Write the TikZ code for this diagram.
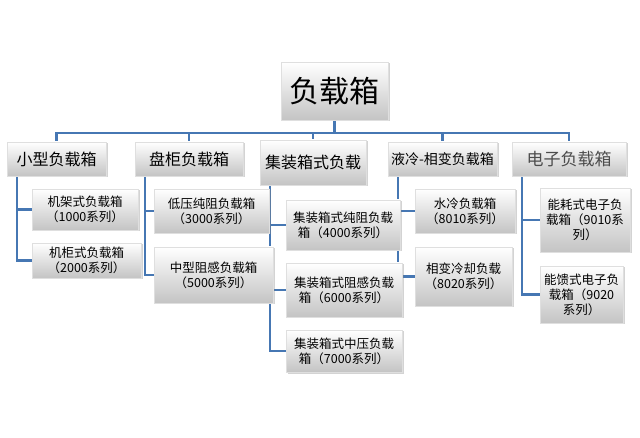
\documentclass[tikz,border=0pt]{standalone}
\usepackage{fontspec}
\newfontfamily\cjk{Noto Sans CJK SC}
\usetikzlibrary{shadows,backgrounds}
\definecolor{linkblue}{HTML}{4677B3}
\definecolor{boxgray}{HTML}{C4C4C4}

\begin{document}
\begin{tikzpicture}[x=1pt,y=-1pt,
    box/.style={draw=white!75!gray, line width=0.4pt, top color=white, bottom color=boxgray,
      drop shadow={shadow xshift=1.5pt, shadow yshift=-1.5pt, opacity=0.35},
      align=center, inner sep=1pt},
    top/.style={box, font=\cjk\fontsize{30}{34}\selectfont},
    main/.style={box, font=\cjk\fontsize{16}{19}\selectfont},
    sub/.style={box, font=\cjk\fontsize{12.5}{15}\selectfont},
    link/.style={draw=linkblue, line width=2.6pt}]
  \useasboundingbox (0,0) rectangle (640,438);
  \node[top, minimum width=107pt, minimum height=58pt] (root) at (334.5,91) {负载箱};

  \node[main, minimum width=99pt, minimum height=34pt] (small) at (56.5,159) {小型负载箱};
  \node[main, minimum width=108pt, minimum height=34pt] (panel) at (189,159) {盘柜负载箱};
  \node[main, minimum width=106pt, minimum height=45pt] (cont) at (313,162.5) {集装箱式负载};
  \node[main, minimum width=109pt, minimum height=34pt, font=\cjk\fontsize{14}{17}\selectfont] (liquid) at (442.5,159) {液冷-相变负载箱};
  \node[main, minimum width=114pt, minimum height=34pt, font=\cjk\fontsize{17}{20}\selectfont, text=black!70] (elec) at (569,159) {电子负载箱};

  \node[sub, minimum width=106pt, minimum height=41pt] (rack) at (85,209.5) {机架式负载箱\\（1000系列）};
  \node[sub, minimum width=109pt, minimum height=35pt] (cabinet) at (86.5,260.5) {机柜式负载箱\\（2000系列）};
  \node[sub, minimum width=115pt, minimum height=44pt] (lowres) at (211.5,211) {低压纯阻负载箱\\（3000系列）};
  \node[sub, minimum width=119pt, minimum height=56pt] (midind) at (213.5,275) {中型阻感负载箱\\（5000系列）};
  \node[sub, minimum width=114pt, minimum height=50pt] (contres) at (343,225) {集装箱式纯阻负载\\箱（4000系列）};
  \node[sub, minimum width=116pt, minimum height=54pt] (contind) at (344,290) {集装箱式阻感负载\\箱（6000系列）};
  \node[sub, minimum width=116pt, minimum height=42pt] (contmv) at (344,351) {集装箱式中压负载\\箱（7000系列）};
  \node[sub, minimum width=100pt, minimum height=44pt] (water) at (465,211) {水冷负载箱\\（8010系列）};
  \node[sub, minimum width=97pt, minimum height=59pt] (phase) at (463.5,276.5) {相变冷却负载\\（8020系列）};
  \node[sub, minimum width=90pt, minimum height=64pt] (dissip) at (585,220) {能耗式电子负\\载箱（9010系\\列）};
  \node[sub, minimum width=83pt, minimum height=57pt] (regen) at (581.5,294.5) {能馈式电子负\\载箱（9020\\系列）};

  \begin{pgfonlayer}{background}
    \foreach \c in {small,panel,cont,liquid,elec}
      \draw[link] (root.south) -- ++(0,13) -| (\c.north);
    \foreach \p/\c in {small/rack,small/cabinet,panel/lowres,panel/midind,
        cont/contres,cont/contind,cont/contmv,liquid/water,liquid/phase,elec/dissip,elec/regen}
      \draw[link] ([xshift=10pt]\p.south west) |- (\c.west);
  \end{pgfonlayer}
\end{tikzpicture}
\end{document}
